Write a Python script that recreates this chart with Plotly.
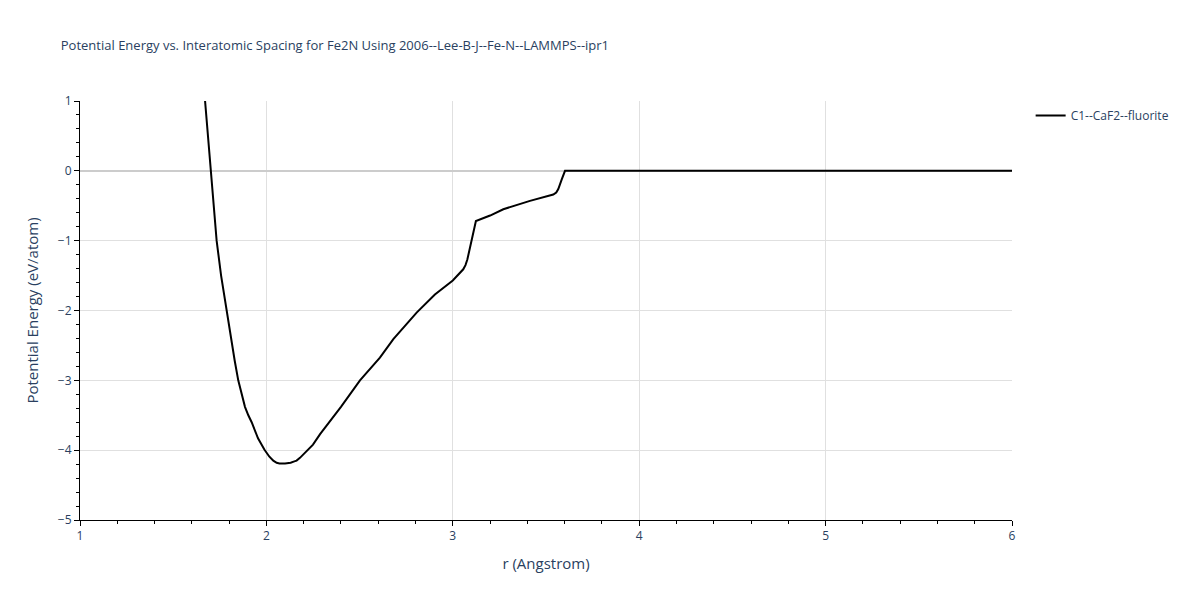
import plotly.graph_objects as go

r_values = [1.671, 1.686, 1.701, 1.717, 1.733, 1.757, 1.783, 1.810, 1.830, 1.849,
            1.867, 1.885, 1.903, 1.921, 1.955, 1.989, 2.015, 2.037, 2.055, 2.070,
            2.100, 2.130, 2.150, 2.162, 2.180, 2.198, 2.250, 2.288, 2.400, 2.502,
            2.609, 2.681, 2.806, 2.904, 3.000, 3.056, 3.068, 3.078, 3.100, 3.124,
            3.200, 3.271, 3.414, 3.539, 3.555, 3.566, 3.585, 3.602, 4.000, 5.000, 6.000]
energy = [1.00, 0.50, 0.00, -0.50, -1.00, -1.50, -1.95, -2.40, -2.72, -3.00,
          -3.20, -3.38, -3.50, -3.60, -3.83, -3.99, -4.09, -4.15, -4.18, -4.19,
          -4.19, -4.18, -4.16, -4.15, -4.11, -4.06, -3.92, -3.77, -3.38, -3.00,
          -2.676, -2.41, -2.03, -1.77, -1.57, -1.41, -1.35, -1.27, -1.00, -0.72,
          -0.64, -0.55, -0.43, -0.34, -0.31, -0.26, -0.12, 0.00, 0.00, 0.00, 0.00]

series_name = "C1--CaF2--fluorite"
title_text = "Potential Energy vs. Interatomic Spacing for Fe2N Using 2006--Lee-B-J--Fe-N--LAMMPS--ipr1"

fig = go.Figure()
fig.add_trace(go.Scatter(x=r_values, y=energy, mode="lines", name=series_name,
                         line=dict(color="black", width=2)))

fig.update_layout(
    width=1200, height=600,
    title=dict(text=title_text, x=0.044, xanchor="left", y=0.945, font=dict(size=13, color="#2a3f5f")),
    plot_bgcolor="white", paper_bgcolor="white",
    margin=dict(l=72, r=196, t=93, b=88),
    showlegend=True,
    legend=dict(x=1.02, y=1.0, xanchor="left", yanchor="top", font=dict(size=12, color="#2a3f5f")),
    font=dict(color="#2a3f5f"),
)
fig.update_xaxes(range=[1, 6], title_text="r (Angstrom)", showline=True, linecolor="black",
                 linewidth=1, ticks="outside", tickcolor="black", ticklen=5, dtick=1,
                 showgrid=True, gridcolor="#e0e0e0", zeroline=False,
                 minor=dict(ticks="outside", ticklen=3, tickcolor="black", dtick=0.2, showgrid=False),
                 title_font=dict(size=15))
fig.update_yaxes(range=[-5, 1], title_text="Potential Energy (eV/atom)", showline=True, linecolor="black",
                 linewidth=1, ticks="outside", tickcolor="black", ticklen=5, dtick=1,
                 showgrid=True, gridcolor="#e0e0e0", zeroline=True, zerolinecolor="#cccccc", zerolinewidth=2,
                 minor=dict(ticks="outside", ticklen=3, tickcolor="black", dtick=0.2, showgrid=False),
                 title_font=dict(size=15))

fig.write_html("out.html")
